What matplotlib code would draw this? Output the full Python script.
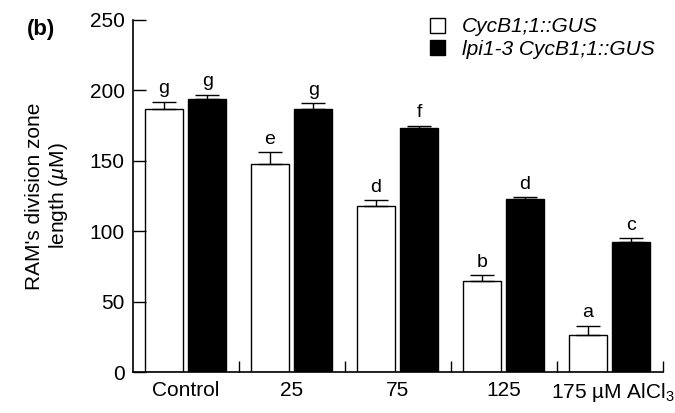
import matplotlib
matplotlib.use("Agg")
from matplotlib import pyplot as plt
from matplotlib.patches import Rectangle

plt.rcParams['font.family'] = ['Liberation Sans', 'DejaVu Sans']
plt.rcParams['mathtext.fontset'] = 'custom'
plt.rcParams['mathtext.rm'] = 'Liberation Sans'
plt.rcParams['mathtext.it'] = 'Liberation Sans:italic'

groups = ["Control", "25", "75", "125", "175 \u00b5M AlCl$_3$"]
wt_vals = [187, 148, 118, 65, 26]
wt_err = [5, 8, 4, 4, 7]
wt_letters = ["g", "e", "d", "b", "a"]
mut_vals = [194, 187, 173, 123, 92]
mut_err = [3, 4, 2, 1, 3]
mut_letters = ["g", "g", "f", "d", "c"]
legend_labels = ["CycB1;1::GUS", "lpi1-3 CycB1;1::GUS"]

fig = plt.figure(figsize=(6.75, 4.13), dpi=100)
ax = fig.add_axes([0.197, 0.099, 0.785, 0.853])

n = len(groups)
xw = [i + 0.29 for i in range(n)]
xm = [i + 0.70 for i in range(n)]
w = 0.36

ax.bar(xw, wt_vals, width=w, color='white', edgecolor='black', linewidth=1.0)
ax.bar(xm, mut_vals, width=w, color='black', edgecolor='black', linewidth=1.0)
ax.errorbar(xw, wt_vals, yerr=[[0] * n, wt_err], fmt='none', ecolor='black',
            elinewidth=1.0, capsize=8.5, capthick=1.0)
ax.errorbar(xm, mut_vals, yerr=[[0] * n, mut_err], fmt='none', ecolor='black',
            elinewidth=1.0, capsize=8.5, capthick=1.0)

for i in range(n):
    ax.text(xw[i], wt_vals[i] + wt_err[i] + 3, wt_letters[i], ha='center',
            va='bottom', fontsize=14)
    ax.text(xm[i], mut_vals[i] + mut_err[i] + 3, mut_letters[i], ha='center',
            va='bottom', fontsize=14)

ax.set_xlim(0, n)
ax.set_ylim(0, 250)
ax.set_yticks([0, 50, 100, 150, 200, 250])
ax.tick_params(axis='y', direction='in', length=9, width=1.0, labelsize=15, pad=6)
ax.set_xticks([1, 2, 3, 4, 5])
ax.set_xticklabels([])
ax.tick_params(axis='x', direction='in', length=8, width=1.0)
for i, g in enumerate(groups):
    xpos = i + 0.5 if i < n - 1 else i + 0.53
    ax.text(xpos, -6, g, ha='center', va='top', fontsize=15,
            transform=ax.transData)

ax.spines['top'].set_visible(False)
ax.spines['right'].set_visible(False)
ax.spines['left'].set_linewidth(1.2)
ax.spines['bottom'].set_linewidth(1.2)

ax.set_ylabel("RAM's division zone\nlength ($\\mathit{\u00b5}$M)", fontsize=15,
              linespacing=1.2, labelpad=14)

fig.text(0.040, 0.928, "(b)", fontsize=16, fontweight='bold', va='center')

# legend drawn by hand
fig.patches.append(Rectangle((0.637, 0.920), 0.022, 0.036, facecolor='white',
                             edgecolor='black', linewidth=1.0,
                             transform=fig.transFigure))
fig.patches.append(Rectangle((0.637, 0.867), 0.022, 0.036, facecolor='black',
                             edgecolor='black', linewidth=1.0,
                             transform=fig.transFigure))
fig.text(0.684, 0.936, legend_labels[0], fontsize=15, style='italic', va='center')
fig.text(0.684, 0.881, legend_labels[1], fontsize=15, style='italic', va='center')

fig.savefig("out.png", dpi=100)
